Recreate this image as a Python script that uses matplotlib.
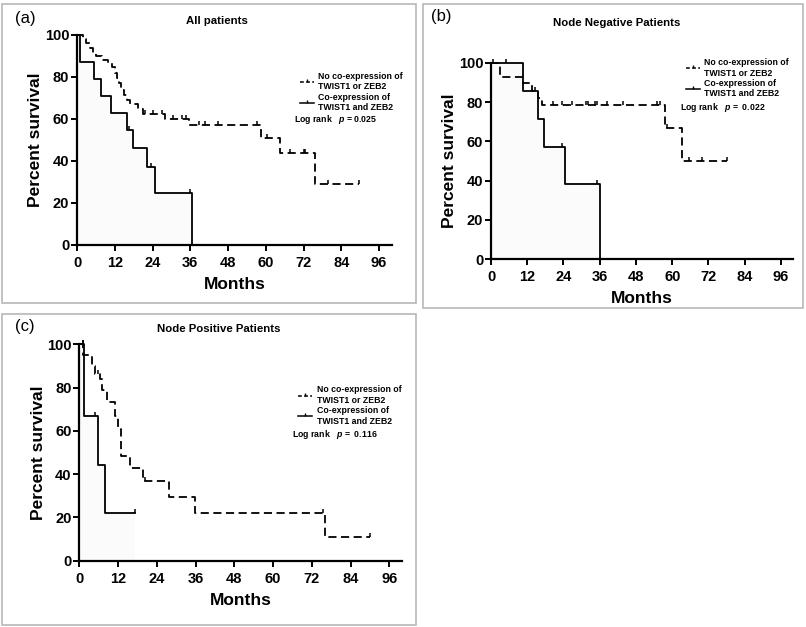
import matplotlib.pyplot as plt
from matplotlib.patches import Rectangle
from matplotlib.lines import Line2D

plt.rcParams['font.family'] = ['Liberation Sans', 'DejaVu Sans']
plt.rcParams['mathtext.fontset'] = 'custom'
plt.rcParams['mathtext.it'] = 'Liberation Sans:italic:bold'

# --- (a) All patients ---
a_no_t = [0, 2, 3, 4, 5, 6, 8, 10, 11, 12, 12.7, 13.3, 14, 15, 16, 17, 19.5, 21, 28, 35.5, 58.5, 64.5, 75.5, 89.6]
a_no_s = [100, 98, 96, 94, 91.5, 90, 88, 86.5, 85, 82, 79.5, 77, 74, 71.5, 69, 67, 65, 62.5, 60, 57, 51, 44, 29, 29]
a_no_cens_t = [21.5, 24, 27, 30.6, 33.5, 34.6, 38.7, 40.8, 44.8, 57.2, 60.5, 67.6, 72, 72.6, 79.8, 89.6]
a_no_cens_s = [62.5, 62.5, 62.5, 60, 60, 60, 57, 57, 57, 57, 51, 44, 44, 44, 29, 29]
a_co_t = [0, 1.1, 5.5, 7.6, 10.9, 15.9, 17.7, 22.1, 24.8, 36.7]
a_co_s = [100, 87, 79, 71, 63, 55, 46, 37, 25, 0]
a_co_cens_t = [16.6, 23.5, 36]
a_co_cens_s = [55, 37, 25]

# --- (b) Node negative ---
b_no_t = [0, 3, 10.7, 13.5, 15.7, 16.8, 57.6, 63.4, 78]
b_no_s = [100, 92.9, 89.5, 85.7, 82, 78.6, 67, 50, 50]
b_no_cens_t = [20.6, 23.4, 26.7, 31.3, 32.2, 34.4, 35.2, 38.3, 43.8, 54.9, 56, 58.3, 65.7, 69.8, 78]
b_no_cens_s = [78.6] * 11 + [67, 50, 50, 50]
b_co_t = [0, 10.7, 15.6, 17.5, 24.5, 36.1]
b_co_s = [100, 85.7, 71.4, 57.1, 38.1, 0]
b_co_cens_t = [0.8, 5, 14.6, 23.4, 35]
b_co_cens_s = [100, 100, 85.7, 57.1, 38.1]

# --- (c) Node positive ---
c_no_t = [0, 1.3, 3.8, 4.9, 6.4, 7, 8.5, 11.1, 12.1, 12.8, 15.7, 19.8, 27.9, 35.8, 76, 90]
c_no_s = [100, 95, 90, 86.5, 84, 79, 73.5, 67, 61, 48.5, 43, 37, 29.5, 22.2, 11.1, 11.1]
c_no_cens_t = [1, 5.9, 20.5, 75.5, 90]
c_no_cens_s = [100, 86.5, 37, 22.2, 11.1]
c_co_t = [0, 1.4, 5.9, 8, 17.2]
c_co_s = [100, 66.7, 44.4, 22.2, 22.2]
c_co_cens_t = [1, 4.9, 17.2]
c_co_cens_s = [100, 66.7, 22.2]

xticks = [0, 12, 24, 36, 48, 60, 72, 84, 96]
yticks = [0, 20, 40, 60, 80, 100]

W, H = 806, 627
fig = plt.figure(figsize=(W / 100, H / 100), dpi=100)


def px_axes(left, right, top, bottom):
    return fig.add_axes([left / W, 1 - bottom / H, (right - left) / W, (bottom - top) / H])


def panel_box(x0, y0, x1, y1):
    fig.patches.append(Rectangle((x0 / W, 1 - y1 / H), (x1 - x0) / W, (y1 - y0) / H,
                                 transform=fig.transFigure, fill=False,
                                 edgecolor='#b8b8b8', lw=1.2))


tick_marker = [(0, 0), (0, 1)]


def km_panel(ax, no_t, no_s, no_ct, no_cs, co_t, co_s, co_ct, co_cs, leg_xy, ptext, p_xy):
    ax.fill_between(co_t, co_s, step='post', color='#fbfbfb', lw=0)
    ax.step(no_t, no_s, where='post', color='black', lw=1.3, dashes=(4.5, 2.5), clip_on=False)
    ax.step(co_t, co_s, where='post', color='black', lw=1.3, clip_on=False)
    ax.plot(no_ct, no_cs, ls='none', marker=tick_marker, ms=6, mew=1.1, color='black', clip_on=False)
    ax.plot(co_ct, co_cs, ls='none', marker=tick_marker, ms=6, mew=1.1, color='black', clip_on=False)
    ax.set_xlim(0, 100)
    ax.set_ylim(0, 100)
    ax.set_xticks(xticks)
    ax.set_yticks(yticks)
    for s in ['top', 'right']:
        ax.spines[s].set_visible(False)
    for s in ['left', 'bottom']:
        ax.spines[s].set_linewidth(1.6)
    ax.tick_params(direction='out', length=4, width=1.4, labelsize=10.5)
    ax.tick_params(axis='x', pad=4)
    ax.tick_params(axis='y', pad=1.5)
    for lab in ax.get_xticklabels() + ax.get_yticklabels():
        lab.set_fontweight('bold')
    ax.set_xlabel('Months', fontsize=12.5, fontweight='bold', labelpad=5)
    ax.set_ylabel('Percent survival', fontsize=12.5, fontweight='bold', labelpad=1)
    handles = [Line2D([], [], color='black', lw=1.1, dashes=(2.5, 1.5), marker=tick_marker, ms=5, mew=1),
               Line2D([], [], color='black', lw=1.1, marker=tick_marker, ms=5, mew=1)]
    leg = ax.legend(handles, ['No co-expression of\nTWIST1 or ZEB2', 'Co-expression of\nTWIST1 and ZEB2'],
                    loc='upper left', bbox_to_anchor=leg_xy, frameon=False, handlelength=1.6,
                    handletextpad=0.5, borderpad=0, labelspacing=0.15,
                    prop={'size': 6.3, 'weight': 'bold'})
    leg.set_zorder(5)
    ax.text(p_xy[0], p_xy[1], ptext, transform=ax.transAxes,
            fontsize=6.3, fontweight='bold', va='center')


# panel borders
panel_box(2, 4, 416, 303)
panel_box(423, 4, 803, 308)
panel_box(2, 314, 416, 625)

# (a)
ax_a = px_axes(77, 391.7, 35, 245)
km_panel(ax_a, a_no_t, a_no_s, a_no_cens_t, a_no_cens_s, a_co_t, a_co_s, a_co_cens_t, a_co_cens_s,
         (0.695, 0.845), 'Log rank   $\\it{p}$ = 0.025', (0.69, 0.6))
fig.text(217 / W, 1 - 21 / H, 'All patients', ha='center', va='center', fontsize=8.2, fontweight='bold')
fig.text(15 / W, 1 - 18 / H, '(a)', ha='left', va='center', fontsize=12)

# (b)
ax_b = px_axes(491, 793, 62.7, 259.3)
km_panel(ax_b, b_no_t, b_no_s, b_no_cens_t, b_no_cens_s, b_co_t, b_co_s, b_co_cens_t, b_co_cens_s,
         (0.63, 1.045), 'Log rank   $\\it{p}$ =  0.022', (0.625, 0.77))
fig.text(617 / W, 1 - 23 / H, 'Node Negative Patients', ha='center', va='center', fontsize=8.2,
         fontweight='bold')
fig.text(431 / W, 1 - 17 / H, '(b)', ha='left', va='center', fontsize=12)

# (c)
ax_c = px_axes(79.3, 402.2, 344.3, 560.7)
km_panel(ax_c, c_no_t, c_no_s, c_no_cens_t, c_no_cens_s, c_co_t, c_co_s, c_co_cens_t, c_co_cens_s,
         (0.665, 0.83), 'Log rank   $\\it{p}$ =  0.116', (0.66, 0.585))
fig.text(219 / W, 1 - 329 / H, 'Node Positive Patients', ha='center', va='center', fontsize=8.2,
         fontweight='bold')
fig.text(15 / W, 1 - 326 / H, '(c)', ha='left', va='center', fontsize=12)

fig.savefig('out.png', dpi=100)
